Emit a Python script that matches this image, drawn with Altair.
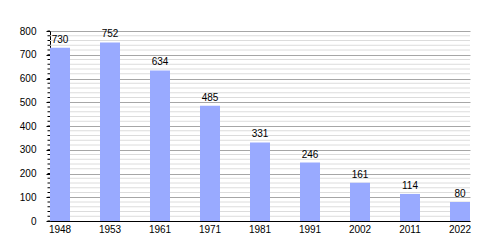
import altair as alt
import pandas as pd

years = ["1948", "1953", "1961", "1971", "1981", "1991", "2002", "2011", "2022"]
population = [730, 752, 634, 485, 331, 246, 161, 114, 80]

df = pd.DataFrame({"year": years, "pop": population})

FONT = "Liberation Sans"
yscale = alt.Scale(domain=[0, 800], nice=False)
yaxis = alt.Axis(values=list(range(0, 801, 100)), grid=True, gridColor="#a6a6a6",
                 tickSize=4, tickColor="black", domainColor="black",
                 labelPadding=10, labelFontSize=10, labelFont=FONT,
                 labelColor="black", title=None)

seq = alt.sequence(0, 820, 20, as_="v")

minor_grid = alt.Chart(seq).mark_rule(color="#dcdcdc", strokeWidth=1).encode(
    y=alt.Y("v:Q", scale=yscale, axis=yaxis)
).transform_filter("datum.v % 100 != 0")

minor_ticks = alt.Chart(seq).mark_rule(color="black", strokeWidth=1).encode(
    y=alt.Y("v:Q", scale=yscale, axis=yaxis),
    x=alt.value(-2.5), x2=alt.value(0)
)

xenc = alt.X("year:O", sort=None,
             scale=alt.Scale(paddingInner=0.6, paddingOuter=0),
             axis=alt.Axis(labelAngle=0, ticks=False, domainColor="black",
                           labelPadding=3, labelFontSize=10, labelFont=FONT,
                           labelColor="black", title=None))

bars = alt.Chart(df).mark_bar(color="#99aaff").encode(
    x=xenc,
    y=alt.Y("pop:Q", scale=yscale, axis=yaxis)
)

labels = alt.Chart(df).mark_text(baseline="alphabetic", dy=-5, fontSize=10,
                                 font=FONT, color="black").encode(
    x=xenc,
    y=alt.Y("pop:Q", scale=yscale, axis=yaxis),
    text="pop:Q"
)

chart = alt.layer(minor_grid, bars, minor_ticks, labels).properties(
    width=420, height=190,
    autosize=alt.AutoSizeParams(type="none"),
    padding={"left": 50, "top": 31, "right": 30, "bottom": 29},
    background="white"
).configure_view(stroke=None)

chart.save("out.html", embed_options={"renderer": "svg", "actions": False})
